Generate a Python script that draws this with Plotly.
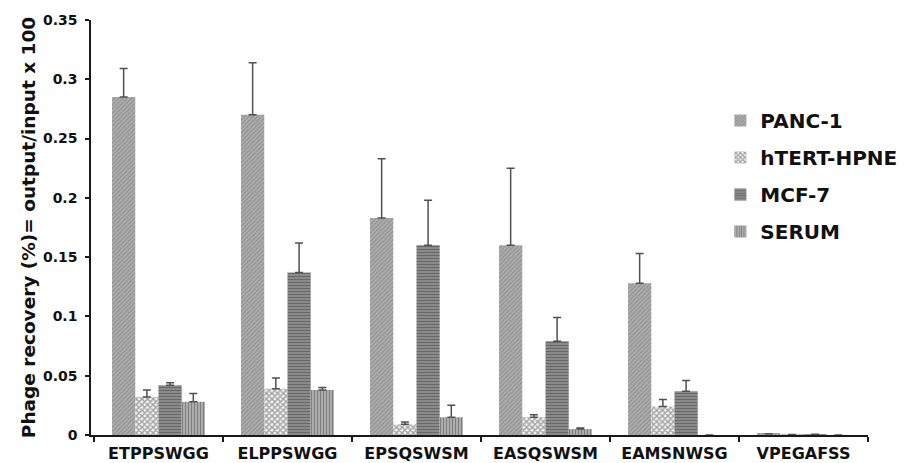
import plotly.graph_objects as go

categories = ["ETPPSWGG", "ELPPSWGG", "EPSQSWSM", "EASQSWSM", "EAMSNWSG", "VPEGAFSS"]
series_names = ["PANC-1", "hTERT-HPNE", "MCF-7", "SERUM"]

panc1 = [0.285, 0.270, 0.183, 0.160, 0.128, 0.001]
panc1_err = [0.024, 0.044, 0.050, 0.065, 0.025, 0.0]
htert = [0.032, 0.039, 0.009, 0.015, 0.024, 0.0005]
htert_err = [0.006, 0.009, 0.002, 0.002, 0.006, 0.0]
mcf7 = [0.042, 0.137, 0.160, 0.079, 0.037, 0.0007]
mcf7_err = [0.002, 0.025, 0.038, 0.020, 0.009, 0.0]
serum = [0.028, 0.038, 0.015, 0.005, 0.0, 0.0]
serum_err = [0.007, 0.002, 0.010, 0.001, 0.0, 0.0]

y_tickvals = [0, 0.05, 0.1, 0.15, 0.2, 0.25, 0.3, 0.35]
y_ticktext = ["0", "0.05", "0.1", "0.15", "0.2", "0.25", "0.3", "0.35"]

FONT = "DejaVu Sans, Liberation Sans, Arial, sans-serif"

values = [panc1, htert, mcf7, serum]
errors = [panc1_err, htert_err, mcf7_err, serum_err]
patterns = [
    dict(shape="/", fgcolor="#6a6a6a", bgcolor="#b0b0b0", size=3, solidity=0.4),
    dict(shape="x", fgcolor="#505050", bgcolor="#f4f4f4", size=4, solidity=0.6),
    dict(shape="-", fgcolor="#3c3c3c", bgcolor="#959595", size=3, solidity=0.5),
    dict(shape="|", fgcolor="#404040", bgcolor="#bcbcbc", size=3, solidity=0.5),
]

fig = go.Figure()
for name, vals, errs, pat in zip(series_names, values, errors, patterns):
    fig.add_trace(go.Bar(
        x=categories, y=vals, name=name, legendgroup=name,
        marker=dict(color=pat["bgcolor"], pattern=pat, line=dict(width=0)),
        error_y=dict(type="data", array=errs, arrayminus=[0]*len(errs), symmetric=False,
                     color="#505050", thickness=1.5, width=4),
    ))

# page body has an 8px default margin; figure is sized to fit the remaining window
fig.update_layout(
    width=899, height=455,
    margin=dict(l=83, r=39, t=12, b=28, autoexpand=False),
    paper_bgcolor="white", plot_bgcolor="white",
    barmode="group", bargap=0.28, bargroupgap=0,
    font=dict(family=FONT, color="#111111"),
    legend=dict(x=0.810, y=0.805, xanchor="left", yanchor="top",
                font=dict(size=20, family=FONT, weight="bold", color="#111111"),
                tracegroupgap=8, itemwidth=30, bgcolor="rgba(0,0,0,0)"),
    showlegend=True,
)
fig.update_xaxes(
    range=[-0.523, 5.5],
    showline=True, linecolor="#1a1a1a", linewidth=1.5, automargin=False,
    ticks="outside", tickson="boundaries", ticklen=5, tickcolor="#1a1a1a", tickwidth=1.5,
    ticklabelstandoff=3,
    tickfont=dict(size=16, weight="bold", family=FONT, color="#111111"), showgrid=False,
)
fig.update_yaxes(
    range=[0, 0.35], showline=True, linecolor="#1a1a1a", linewidth=1.5, automargin=False,
    ticks="outside", ticklen=4, tickcolor="#1a1a1a", tickwidth=1.5,
    ticklabelstandoff=5,
    tickvals=y_tickvals, ticktext=y_ticktext,
    tickfont=dict(size=14, weight="bold", family=FONT, color="#111111"), showgrid=False, zeroline=False,
    title=dict(text="Phage recovery (%)= output/input x 100",
               font=dict(size=18.5, weight="bold", family=FONT, color="#111111"), standoff=2),
)

fig.write_html("out.html")
